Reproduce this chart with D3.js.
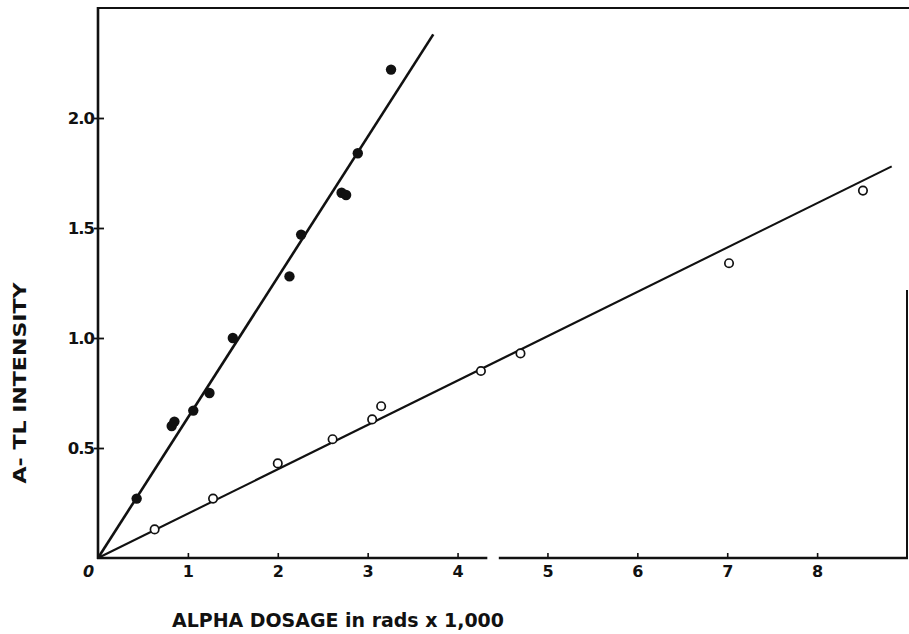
<!DOCTYPE html>
<html>
<head>
<meta charset="utf-8">
<script src="https://cdn.jsdelivr.net/npm/d3@7"></script>
<style>
  html, body { margin: 0; padding: 0; background: #fff; }
  svg { display: block; }
  text { font-family: "DejaVu Sans", "Liberation Sans", sans-serif; fill: #111; }
</style>
</head>
<body>
<svg id="chart" width="909" height="634"></svg>
<script>
// Alpha dose (thousands of rads) vs A-TL intensity
const filledDose = [0.43, 0.82, 0.85, 1.06, 1.24, 1.50, 2.13, 2.26, 2.71, 2.76, 2.89, 3.26];
const filledTL   = [0.27, 0.60, 0.62, 0.67, 0.75, 1.00, 1.28, 1.47, 1.66, 1.65, 1.84, 2.22];
const openDose   = [0.63, 1.28, 2.00, 2.61, 3.05, 3.15, 4.26, 4.70, 7.02, 8.51];
const openTL     = [0.13, 0.27, 0.43, 0.54, 0.63, 0.69, 0.85, 0.93, 1.34, 1.67];

// Fitted straight lines through the origin
const filledFitDose = [0, 3.73];
const filledFitTL   = [0, 2.38];
const openFitDose   = [0, 8.83];
const openFitTL     = [0, 1.78];

const xTicks = [0, 1, 2, 3, 4, 5, 6, 7, 8];
const yTicks = [0.5, 1.0, 1.5, 2.0];
const xBreak = [4.32, 4.47];   // gap in the dose axis

const svg = d3.select("#chart");
const x = d3.scaleLinear().domain([0, 9]).range([98, 907]);
const y = d3.scaleLinear().domain([0, 2.5]).range([558, 8]);

const ink = "#111";

// frame: top and partial right edge
svg.append("line").attr("x1", x(0) - 1).attr("x2", 909).attr("y1", y(2.5)).attr("y2", y(2.5))
  .attr("stroke", ink).attr("stroke-width", 2.2);
svg.append("line").attr("x1", x(9)).attr("x2", x(9)).attr("y1", 290).attr("y2", y(0))
  .attr("stroke", ink).attr("stroke-width", 2);

// y axis
const yAxis = d3.axisLeft(y).tickValues(yTicks).tickSize(-6).tickSizeOuter(0)
  .tickFormat(d3.format(".1f"));
const gy = svg.append("g").attr("transform", `translate(${x(0)},0)`).call(yAxis);
gy.select(".domain").remove();
gy.selectAll(".tick line").attr("x1", -4).attr("stroke", ink).attr("stroke-width", 1.8);
gy.selectAll(".tick text").attr("x", -4).attr("dy", "0.36em")
  .style("font-size", "16.5px").style("font-weight", "bold").style("letter-spacing", "-1px")
  .attr("fill", ink);
svg.append("line").attr("x1", x(0)).attr("x2", x(0)).attr("y1", y(2.5) - 1).attr("y2", y(0) + 1)
  .attr("stroke", ink).attr("stroke-width", 2.6);

// x axis (broken between 4.32 and 4.47)
const xAxis = d3.axisBottom(x).tickValues(xTicks).tickSize(-5).tickSizeOuter(0)
  .tickFormat(d3.format("d"));
const gx = svg.append("g").attr("transform", `translate(0,${y(0)})`).call(xAxis);
gx.select(".domain").remove();
gx.selectAll(".tick line").attr("stroke", ink).attr("stroke-width", 1.6)
  .filter(d => d === 0).remove();
gx.selectAll(".tick text").attr("y", 8).attr("dy", "0.71em")
  .style("font-size", "16px").style("font-weight", "bold").attr("fill", ink)
  .filter(d => d === 0).attr("x", -10).style("font-style", "italic");
const xSegments = [[0, xBreak[0]], [xBreak[1], 9]];
svg.selectAll(".xseg").data(xSegments).join("line").attr("class", "xseg")
  .attr("x1", d => x(d[0]) - 1).attr("x2", d => x(d[1]) + 1)
  .attr("y1", y(0)).attr("y2", y(0))
  .attr("stroke", ink).attr("stroke-width", 2.6);

// fitted lines
const line = d3.line().x(d => x(d[0])).y(d => y(d[1]));
svg.append("path").datum(d3.zip(filledFitDose, filledFitTL)).attr("d", line)
  .attr("fill", "none").attr("stroke", ink).attr("stroke-width", 2.6);
svg.append("path").datum(d3.zip(openFitDose, openFitTL)).attr("d", line)
  .attr("fill", "none").attr("stroke", ink).attr("stroke-width", 2.1);

// points
svg.selectAll(".filled").data(d3.zip(filledDose, filledTL)).join("circle").attr("class", "filled")
  .attr("cx", d => x(d[0])).attr("cy", d => y(d[1])).attr("r", 5.2).attr("fill", ink);
svg.selectAll(".open").data(d3.zip(openDose, openTL)).join("circle").attr("class", "open")
  .attr("cx", d => x(d[0])).attr("cy", d => y(d[1])).attr("r", 4.2)
  .attr("fill", "#fff").attr("stroke", ink).attr("stroke-width", 1.7);

// axis titles
svg.append("text").attr("x", 172).attr("y", 627)
  .attr("textLength", 332).attr("lengthAdjust", "spacingAndGlyphs")
  .style("font-size", "19px").style("font-weight", "bold")
  .text("ALPHA DOSAGE in rads x 1,000");
svg.append("text").attr("transform", "translate(26,383) rotate(-90)")
  .attr("text-anchor", "middle").attr("textLength", 201).attr("lengthAdjust", "spacingAndGlyphs")
  .style("font-size", "18.5px").style("font-weight", "bold")
  .text("A- TL INTENSITY");
</script>
</body>
</html>
